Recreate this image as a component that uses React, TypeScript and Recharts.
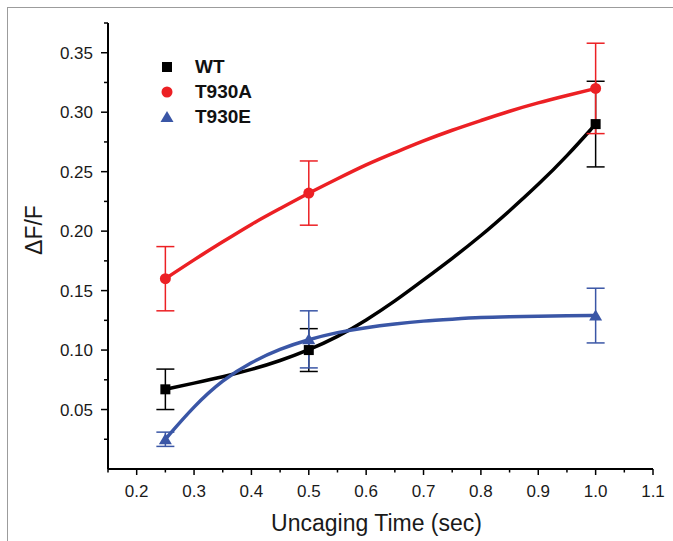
import React from "react";
import {
  ComposedChart,
  Line,
  Scatter,
  ErrorBar,
  XAxis,
  YAxis,
  Legend,
} from "recharts";

// measured points (mean ± SE)
const times = [0.25, 0.5, 1.0];
const wtMean = [0.067, 0.1, 0.29];
const wtErr = [0.017, 0.018, 0.036];
const t930aMean = [0.16, 0.232, 0.32];
const t930aErr = [0.027, 0.027, 0.038];
const t930eMean = [0.025, 0.109, 0.129];
const t930eErr = [0.006, 0.024, 0.023];

// fitted curves
const curveX = [0.25, 0.3, 0.35, 0.4, 0.45, 0.5, 0.55, 0.6, 0.65, 0.7, 0.75, 0.8, 0.85, 0.9, 0.95, 1.0];
const wtCurve = [0.067, 0.0722, 0.0775, 0.0835, 0.091, 0.1, 0.111, 0.125, 0.141, 0.159, 0.177, 0.196, 0.217, 0.239, 0.263, 0.29];
const t930aCurve = [0.16, 0.176, 0.191, 0.206, 0.219, 0.232, 0.244, 0.256, 0.266, 0.276, 0.285, 0.293, 0.301, 0.308, 0.314, 0.32];
const t930eCurve = [0.025, 0.053, 0.075, 0.09, 0.101, 0.109, 0.115, 0.119, 0.122, 0.1245, 0.126, 0.1275, 0.128, 0.1285, 0.129, 0.129];

const xTicks = [0.15, 0.2, 0.25, 0.3, 0.35, 0.4, 0.45, 0.5, 0.55, 0.6, 0.65, 0.7, 0.75, 0.8, 0.85, 0.9, 0.95, 1.0, 1.05, 1.1];
const yTicks = [0.025, 0.05, 0.075, 0.1, 0.125, 0.15, 0.175, 0.2, 0.225, 0.25, 0.275, 0.3, 0.325, 0.35, 0.375];

const FONT = '"Liberation Sans", Arial, Helvetica, sans-serif';
const BLACK = "#000000";
const RED = "#ec2024";
const BLUE = "#3a56a6";

const points = (mean: number[], err: number[]) =>
  times.map((t, i) => ({ x: t, y: mean[i], err: err[i] }));
const curve = (vals: number[]) => curveX.map((x, i) => ({ x, y: vals[i] }));

const series = [
  { name: "WT", color: BLACK, shape: "square", pts: points(wtMean, wtErr), fit: curve(wtCurve) },
  { name: "T930A", color: RED, shape: "circle", pts: points(t930aMean, t930aErr), fit: curve(t930aCurve) },
  { name: "T930E", color: BLUE, shape: "triangle", pts: points(t930eMean, t930eErr), fit: curve(t930eCurve) },
];

function Marker({ shape, color, cx, cy }: { shape: string; color: string; cx: number; cy: number }) {
  if (shape === "square") return <rect x={cx - 5} y={cy - 5} width={10} height={10} fill={color} />;
  if (shape === "circle") return <circle cx={cx} cy={cy} r={5.5} fill={color} />;
  return <polygon points={`${cx},${cy - 6} ${cx + 6.5},${cy + 5} ${cx - 6.5},${cy + 5}`} fill={color} />;
}

const isMajor = (v: number, step: number) => Math.abs(v / step - Math.round(v / step)) < 1e-6;

function YTick(props: any) {
  const { x, y, payload } = props;
  const v = payload.value as number;
  const major = isMajor(v, 0.05);
  return (
    <g>
      <line x1={x - (major ? 7 : 4)} x2={x} y1={y} y2={y} stroke={BLACK} strokeWidth={1.5} />
      {major && (
        <text x={x - 15} y={y} dy="0.36em" textAnchor="end" fontSize={17} fontFamily={FONT} fill="#1a1a1a">
          {v.toFixed(2)}
        </text>
      )}
    </g>
  );
}

function XTick(props: any) {
  const { x, y, payload } = props;
  const v = payload.value as number;
  const major = isMajor(v, 0.1);
  return (
    <g>
      <line x1={x} x2={x} y1={y} y2={y + (major ? 6 : 3.5)} stroke={BLACK} strokeWidth={1.5} />
      {major && (
        <text x={x} y={y + 28} textAnchor="middle" fontSize={17} fontFamily={FONT} fill="#1a1a1a">
          {v.toFixed(1)}
        </text>
      )}
    </g>
  );
}

function YTitle() {
  return (
    <text
      x={34}
      y={230}
      transform="rotate(-90 34 230)"
      textAnchor="middle"
      dominantBaseline="central"
      fontSize={23}
      fontFamily={FONT}
      fill="#1a1a1a"
    >
      ΔF/F
    </text>
  );
}

function LegendBox() {
  return (
    <div style={{ fontFamily: FONT }}>
      {series.map((s) => (
        <div key={s.name} style={{ display: "flex", alignItems: "center", height: 25 }}>
          <svg width={16} height={16}>
            <Marker shape={s.shape} color={s.color} cx={8} cy={8} />
          </svg>
          <span style={{ marginLeft: 20, fontSize: 19, fontWeight: "bold", color: "#111" }}>{s.name}</span>
        </div>
      ))}
    </div>
  );
}

export default function App() {
  return (
    <div style={{ position: "absolute", left: 0, top: 0, width: 673, height: 541, background: "#fff" }}>
      <div
        style={{
          position: "absolute",
          left: 7,
          top: 7,
          width: 666,
          height: 534,
          borderTop: "1.5px solid #9c9c9c",
          borderLeft: "1.5px solid #9c9c9c",
        }}
      />
      <ComposedChart width={673} height={541} margin={{ top: 23, right: 20, bottom: 0, left: 0 }}>
        <XAxis
          type="number"
          dataKey="x"
          domain={[0.15, 1.1]}
          ticks={xTicks}
          interval={0}
          height={72}
          tickSize={0}
          tickMargin={0}
          tickLine={false}
          tick={<XTick />}
          axisLine={{ stroke: BLACK, strokeWidth: 2 }}
          allowDataOverflow
          label={{
            value: "Uncaging Time (sec)",
            position: "insideBottom",
            offset: 10,
            dx: -4,
            fontSize: 23,
            fontFamily: FONT,
            fill: "#1a1a1a",
          }}
        />
        <YAxis
          type="number"
          dataKey="y"
          domain={[0, 0.375]}
          ticks={yTicks}
          interval={0}
          width={108}
          tickSize={0}
          tickMargin={0}
          tickLine={false}
          tick={<YTick />}
          axisLine={{ stroke: BLACK, strokeWidth: 2 }}
          allowDataOverflow
          label={<YTitle />}
        />
        <Legend
          layout="vertical"
          align="center"
          verticalAlign="middle"
          content={<LegendBox />}
          wrapperStyle={{ left: 159, top: 54, width: 140 }}
        />
        {series.map((s) => (
          <Line
            key={`fit-${s.name}`}
            data={s.fit}
            dataKey="y"
            type="basis"
            stroke={s.color}
            strokeWidth={3.5}
            dot={false}
            activeDot={false}
            legendType="none"
            isAnimationActive={false}
          />
        ))}
        {series.map((s) => (
          <Scatter
            key={`pts-${s.name}`}
            name={s.name}
            data={s.pts}
            dataKey="y"
            fill={s.color}
            isAnimationActive={false}
            shape={(p: any) => <Marker shape={s.shape} color={s.color} cx={p.cx} cy={p.cy} />}
          >
            <ErrorBar dataKey="err" direction="y" width={9} stroke={s.color} strokeWidth={1.5} />
          </Scatter>
        ))}
      </ComposedChart>
    </div>
  );
}
